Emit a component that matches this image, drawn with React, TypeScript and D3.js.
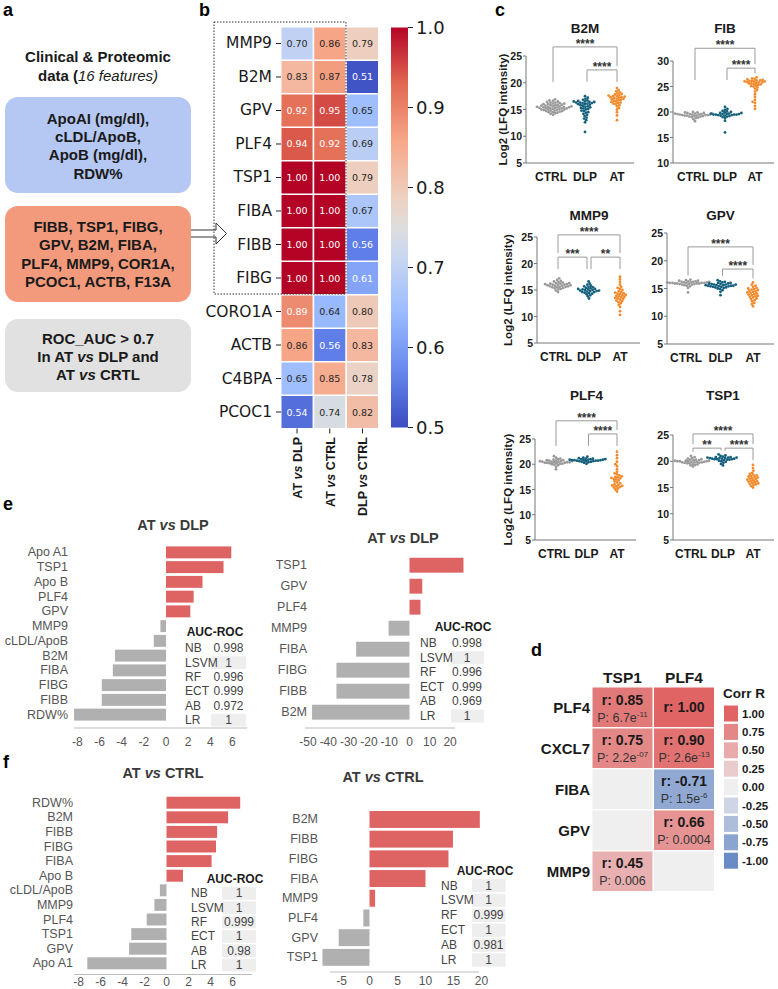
import React from "react";
import * as d3 from "d3";

const SANS = "'Liberation Sans', Arial, Helvetica, sans-serif";
const DEJAVU = "'DejaVu Sans', sans-serif";
const INK = "#1a1a1a";

// ---------- a: feature selection boxes ----------
const clinicalFeatures = ["ApoAI (mg/dl),", "cLDL/ApoB,", "ApoB (mg/dl),", "RDW%"];
const proteomicFeatures = ["FIBB, TSP1, FIBG,", "GPV, B2M, FIBA,", "PLF4, MMP9, COR1A,", "PCOC1, ACTB, F13A"];

// ---------- b: ROC AUC heatmap ----------
const heatRows = ["MMP9", "B2M", "GPV", "PLF4", "TSP1", "FIBA", "FIBB", "FIBG", "CORO1A", "ACTB", "C4BPA", "PCOC1"];
const heatCols = ["AT vs DLP", "AT vs CTRL", "DLP vs CTRL"];
const aucAtDlp = [0.70, 0.83, 0.92, 0.94, 1.00, 1.00, 1.00, 1.00, 0.89, 0.86, 0.65, 0.54];
const aucAtCtrl = [0.86, 0.87, 0.95, 0.92, 1.00, 1.00, 1.00, 1.00, 0.64, 0.56, 0.85, 0.74];
const aucDlpCtrl = [0.79, 0.51, 0.65, 0.69, 0.79, 0.67, 0.56, 0.61, 0.80, 0.83, 0.78, 0.82];
const colorbarTicks = [1.0, 0.9, 0.8, 0.7, 0.6, 0.5];

// ---------- c: LFQ intensity dot plots ----------
const groups = ["CTRL", "DLP", "AT"];
const b2mCtrl = [14.0, 14.2, 14.3, 14.4, 14.5, 14.5, 14.6, 14.7, 14.7, 14.8, 14.8, 14.9, 14.9, 15.0, 15.0, 15.0, 15.1, 15.1, 15.2, 15.2, 15.2, 15.3, 15.3, 15.3, 15.4, 15.4, 15.4, 15.5, 15.5, 15.5, 15.6, 15.6, 15.6, 15.7, 15.7, 15.8, 15.8, 15.9, 15.9, 16.0, 16.0, 16.1, 16.1, 16.2, 16.3, 16.3, 16.4, 16.5, 16.6, 16.7, 16.9];
const b2mDlp = [10.8, 12.6, 13.0, 13.3, 13.5, 13.8, 14.0, 14.2, 14.4, 14.5, 14.7, 14.8, 15.0, 15.1, 15.2, 15.3, 15.4, 15.5, 15.6, 15.7, 15.8, 15.9, 16.0, 16.0, 16.1, 16.2, 16.2, 16.3, 16.3, 16.4, 16.4, 16.5, 16.5, 16.6, 16.7, 16.8, 17.0, 17.2, 17.5];
const b2mAt = [13.0, 13.9, 14.5, 15.0, 15.3, 15.6, 15.8, 16.0, 16.1, 16.2, 16.3, 16.4, 16.5, 16.6, 16.7, 16.8, 16.9, 17.0, 17.0, 17.1, 17.2, 17.3, 17.3, 17.4, 17.5, 17.5, 17.6, 17.7, 17.8, 17.9, 18.0, 18.2, 18.4, 18.6, 19.0];
const fibCtrl = [18.2, 18.6, 18.8, 18.9, 19.0, 19.1, 19.1, 19.2, 19.2, 19.3, 19.3, 19.3, 19.4, 19.4, 19.4, 19.5, 19.5, 19.5, 19.5, 19.6, 19.6, 19.6, 19.7, 19.7, 19.7, 19.8, 19.8, 19.9, 19.9, 20.0];
const fibDlp = [16.0, 18.3, 18.8, 19.0, 19.1, 19.2, 19.3, 19.3, 19.4, 19.4, 19.5, 19.5, 19.5, 19.5, 19.6, 19.6, 19.6, 19.7, 19.7, 19.8, 19.8, 19.9, 20.0, 20.1, 20.2, 20.4, 20.6, 21.0];
const fibAt = [20.6, 21.2, 21.8, 22.0, 22.4, 23.0, 23.5, 24.0, 24.3, 24.6, 24.8, 25.0, 25.1, 25.2, 25.3, 25.4, 25.5, 25.6, 25.6, 25.7, 25.8, 25.8, 25.9, 26.0, 26.0, 26.0, 26.1, 26.1, 26.2, 26.2, 26.3, 26.4, 26.5, 26.6, 26.8];
const mmp9Ctrl = [14.6, 14.9, 15.1, 15.2, 15.3, 15.4, 15.5, 15.5, 15.6, 15.6, 15.7, 15.7, 15.8, 15.8, 15.9, 15.9, 16.0, 16.0, 16.0, 16.1, 16.1, 16.2, 16.2, 16.3, 16.3, 16.4, 16.5, 16.6, 16.7, 16.9, 17.2];
const mmp9Dlp = [13.4, 13.8, 14.0, 14.2, 14.3, 14.4, 14.5, 14.6, 14.6, 14.7, 14.8, 14.8, 14.9, 14.9, 15.0, 15.0, 15.1, 15.1, 15.2, 15.2, 15.3, 15.4, 15.5, 15.6, 15.7, 15.8, 16.0, 16.2, 16.6];
const mmp9At = [10.3, 11.0, 11.8, 12.2, 12.5, 12.7, 12.9, 13.0, 13.2, 13.3, 13.4, 13.5, 13.6, 13.7, 13.8, 13.9, 14.0, 14.1, 14.2, 14.3, 14.4, 14.5, 14.6, 14.8, 15.0, 15.2, 15.4, 15.6, 16.0, 16.5, 17.0, 17.5];
const gpvCtrl = [14.3, 15.1, 15.4, 15.5, 15.6, 15.7, 15.7, 15.8, 15.8, 15.8, 15.9, 15.9, 15.9, 15.9, 16.0, 16.0, 16.0, 16.0, 16.0, 16.1, 16.1, 16.1, 16.1, 16.2, 16.2, 16.2, 16.3, 16.3, 16.4, 16.4, 16.5, 16.6];
const gpvDlp = [13.8, 14.4, 14.7, 14.9, 15.0, 15.1, 15.2, 15.2, 15.3, 15.3, 15.4, 15.4, 15.4, 15.5, 15.5, 15.5, 15.6, 15.6, 15.6, 15.7, 15.7, 15.7, 15.8, 15.8, 15.9, 15.9, 16.0, 16.0, 16.1, 16.2, 16.3, 16.5];
const gpvAt = [11.8, 12.2, 12.4, 12.7, 12.9, 13.1, 13.2, 13.4, 13.5, 13.6, 13.7, 13.8, 13.9, 14.0, 14.1, 14.2, 14.3, 14.4, 14.5, 14.6, 14.7, 14.8, 14.9, 15.0, 15.1, 15.3, 15.5, 15.7, 16.1];
const plf4Ctrl = [19.0, 19.5, 19.8, 19.9, 20.0, 20.1, 20.1, 20.2, 20.2, 20.3, 20.3, 20.3, 20.4, 20.4, 20.4, 20.5, 20.5, 20.5, 20.6, 20.6, 20.6, 20.7, 20.7, 20.8, 20.8, 20.9, 21.0, 21.1, 21.3, 21.6];
const plf4Dlp = [20.1, 20.3, 20.4, 20.5, 20.5, 20.6, 20.6, 20.6, 20.7, 20.7, 20.7, 20.8, 20.8, 20.8, 20.8, 20.9, 20.9, 20.9, 21.0, 21.0, 21.0, 21.1, 21.1, 21.2, 21.3, 21.5];
const plf4At = [14.6, 15.0, 15.2, 15.4, 15.5, 15.6, 15.7, 15.8, 15.9, 16.0, 16.2, 16.4, 16.6, 16.8, 17.0, 17.1, 17.2, 17.3, 17.4, 17.5, 17.6, 17.8, 18.0, 18.2, 18.5, 19.0, 19.6, 20.0, 20.5, 21.2, 21.8, 22.5];
const tsp1Ctrl = [19.0, 19.2, 19.3, 19.4, 19.5, 19.6, 19.6, 19.7, 19.7, 19.8, 19.8, 19.8, 19.9, 19.9, 19.9, 20.0, 20.0, 20.0, 20.0, 20.1, 20.1, 20.1, 20.2, 20.2, 20.3, 20.3, 20.4, 20.5, 20.6, 20.8, 21.0];
const tsp1Dlp = [19.2, 19.5, 19.7, 19.9, 20.0, 20.1, 20.2, 20.3, 20.3, 20.4, 20.4, 20.4, 20.5, 20.5, 20.5, 20.6, 20.6, 20.6, 20.7, 20.7, 20.7, 20.8, 20.8, 20.9, 21.0, 21.1, 21.3];
const tsp1At = [15.0, 15.3, 15.5, 15.6, 15.7, 15.8, 15.9, 16.0, 16.1, 16.2, 16.3, 16.4, 16.5, 16.6, 16.7, 16.8, 16.9, 17.0, 17.1, 17.2, 17.3, 17.4, 17.6, 17.8, 18.2, 18.7, 19.3];
const ticks5to25 = [5, 10, 15, 20, 25];
const ticks10to30 = [10, 15, 20, 25, 30];

// ---------- d: correlation matrix ----------
const corrRows = ["PLF4", "CXCL7", "FIBA", "GPV", "MMP9"];
const corrCols = ["TSP1", "PLF4"];
const corrTsp1 = [0.85, 0.75, null, null, 0.45];
const corrPlf4 = [1.00, 0.90, -0.71, 0.66, null];
const pTsp1 = ["6.7e-11", "2.2e-07", null, null, "0.006"];
const pPlf4 = [null, "2.6e-13", "1.5e-6", "0.0004", null];
const corrLegend = [1.0, 0.75, 0.5, 0.25, 0.0, -0.25, -0.5, -0.75, -1.0];

// ---------- e, f: feature importance bars ----------
const eLeftNames = ["Apo A1", "TSP1", "Apo B", "PLF4", "GPV", "MMP9", "cLDL/ApoB", "B2M", "FIBA", "FIBG", "FIBB", "RDW%"];
const eLeftValues = [5.9, 5.2, 3.3, 2.5, 2.2, -0.5, -1.1, -4.6, -4.8, -5.8, -5.8, -8.3];
const eRightNames = ["TSP1", "GPV", "PLF4", "MMP9", "FIBA", "FIBG", "FIBB", "B2M"];
const eRightValues = [26.6, 6.3, 5.4, -10.3, -26.3, -36.0, -36.0, -48.0];
const fLeftNames = ["RDW%", "B2M", "FIBB", "FIBG", "FIBA", "Apo B", "cLDL/ApoB", "MMP9", "PLF4", "TSP1", "GPV", "Apo A1"];
const fLeftValues = [6.7, 5.6, 4.6, 4.5, 4.1, 1.5, -0.6, -1.1, -1.8, -3.2, -3.4, -7.2];
const fRightNames = ["B2M", "FIBB", "FIBG", "FIBA", "MMP9", "PLF4", "GPV", "TSP1"];
const fRightValues = [19.7, 14.9, 14.1, 10.0, 1.0, -1.1, -5.5, -8.4];
const aucModels = ["NB", "LSVM", "RF", "ECT", "AB", "LR"];
const eLeftAuc = [0.998, 1, 0.996, 0.999, 0.972, 1];
const eRightAuc = [0.998, 1, 0.996, 0.999, 0.969, 1];
const fLeftAuc = [1, 1, 0.999, 1, 0.98, 1];
const fRightAuc = [1, 1, 0.999, 1, 0.981, 1];
const smallTicks = [-8, -6, -4, -2, 0, 2, 4, 6];
const wideTicks = [-50, -40, -30, -20, -10, 0, 10, 20];
const fRightTicks = [-5, 0, 5, 10, 15, 20];

// matplotlib-like coolwarm
const coolwarmPos = [0, 1 / 7, 2 / 7, 3 / 7, 0.5, 4 / 7, 5 / 7, 6 / 7, 1];
const coolwarmHex = ["#3b4cc0", "#6788ee", "#9abbff", "#c9d7f0", "#dddddd", "#edd1c2", "#f7a889", "#e26952", "#b40426"];
const coolwarm = d3.scaleLinear<string>().domain(coolwarmPos).range(coolwarmHex).interpolate(d3.interpolateRgb).clamp(true);
const heatColor = (v: number) => coolwarm((v - 0.5) / 0.5);

function luminance(c: string) {
  const { r, g, b } = d3.rgb(c);
  const lin = (u: number) => {
    u /= 255;
    return u <= 0.03928 ? u / 12.92 : Math.pow((u + 0.055) / 1.055, 2.4);
  };
  return 0.2126 * lin(r) + 0.7152 * lin(g) + 0.0722 * lin(b);
}

function VsText({ s }: { s: string }) {
  const [a, b] = s.split(" vs ");
  return (
    <>
      <tspan>{a} </tspan>
      <tspan fontStyle="italic">vs</tspan>
      <tspan> {b}</tspan>
    </>
  );
}

function PanelLabel({ x, y, t }: { x: number; y: number; t: string }) {
  return (
    <text x={x} y={y} fontFamily={SANS} fontWeight="bold" fontSize={18} fill="#000">
      {t}
    </text>
  );
}

// ---------- a ----------
function FeatureBoxes() {
  return (
    <g fontFamily={SANS} fontWeight="bold" fontSize={15} fill={INK} textAnchor="middle">
      <text x={98} y={62}>Clinical &amp; Proteomic</text>
      <text x={98} y={81}>
        data (<tspan fontStyle="italic" fontWeight="normal">16 features)</tspan>
      </text>
      <rect x={5} y={97} width={186} height={96} rx={13} fill="#b5c8f3" />
      {clinicalFeatures.map((t, i) => (
        <text key={t} x={98} y={123.5 + i * 18.4}>{t}</text>
      ))}
      <rect x={5} y={206} width={186} height={96} rx={13} fill="#f39a7d" />
      {proteomicFeatures.map((t, i) => (
        <text key={t} x={98} y={232 + i * 18.4}>{t}</text>
      ))}
      <rect x={5} y={319} width={186} height={73} rx={13} fill="#e1e1e1" />
      <text x={98} y={343.5}>ROC_AUC &gt; 0.7</text>
      <text x={98} y={361.5}>
        In AT <tspan fontStyle="italic">vs</tspan> DLP and
      </text>
      <text x={98} y={379.5}>
        AT <tspan fontStyle="italic">vs</tspan> CRTL
      </text>
      <path d="M191,230 L216,230 L216,223 L226.5,233.5 L216,244 L216,237 L191,237" fill="#fff" stroke="#333" strokeWidth={1} />
    </g>
  );
}

// ---------- b ----------
function AucHeatmap() {
  const x = d3.scaleBand<string>().domain(heatCols).range([281.5, 378]).paddingInner(0.05);
  const y = d3.scaleBand<string>().domain(heatRows).range([27.5, 428]).paddingInner(0.045);
  const cols = [aucAtDlp, aucAtCtrl, aucDlpCtrl];
  const cb = d3.scaleLinear().domain([0.5, 1.0]).range([427.5, 27.5]);
  const cbX = 391;
  const cbW = 17;
  return (
    <g>
      <defs>
        <linearGradient id="coolwarm" x1="0" y1="1" x2="0" y2="0">
          {coolwarmPos.map((p, i) => (
            <stop key={i} offset={p} stopColor={coolwarmHex[i]} />
          ))}
        </linearGradient>
      </defs>
      {cols.map((vals, ci) =>
        vals.map((v, ri) => {
          const fill = heatColor(v);
          const cx = x(heatCols[ci])! + x.bandwidth() / 2;
          const cy = y(heatRows[ri])! + y.bandwidth() / 2;
          return (
            <g key={`${ci}-${ri}`}>
              <rect x={x(heatCols[ci])} y={y(heatRows[ri])} width={x.bandwidth()} height={y.bandwidth()} fill={fill} />
              <text x={cx} y={cy} textAnchor="middle" dominantBaseline="central" fontFamily={DEJAVU} fontSize={9.5}
                fill={luminance(fill) > 0.408 ? "#262626" : "#ffffff"}>
                {v.toFixed(2)}
              </text>
            </g>
          );
        })
      )}
      {heatRows.map((r) => {
        const cy = y(r)! + y.bandwidth() / 2;
        return (
          <g key={r}>
            <line x1={276} x2={281} y1={cy} y2={cy} stroke="#222" />
            <text x={272} y={cy} textAnchor="end" dominantBaseline="central" fontFamily={DEJAVU} fontSize={15.5} fill={INK}>
              {r}
            </text>
          </g>
        );
      })}
      {heatCols.map((c) => {
        const cx = x(c)! + x.bandwidth() / 2;
        return (
          <g key={c}>
            <line x1={cx} x2={cx} y1={428.5} y2={433.5} stroke="#222" />
            <text transform={`translate(${cx + 1},437) rotate(-90)`} textAnchor="end" dominantBaseline="central"
              fontFamily={SANS} fontWeight="bold" fontSize={12.5} fill={INK}>
              <VsText s={c} />
            </text>
          </g>
        );
      })}
      <rect x={214} y={22} width={132} height={272} fill="none" stroke="#333" strokeWidth={1} strokeDasharray="1.5 1.5" />
      <rect x={cbX} y={cb(1)} width={cbW} height={cb(0.5) - cb(1)} fill="url(#coolwarm)" />
      {colorbarTicks.map((t) => (
        <g key={t}>
          <line x1={cbX + cbW} x2={cbX + cbW + 5} y1={cb(t)} y2={cb(t)} stroke="#222" />
          <text x={cbX + cbW + 8} y={cb(t)} dominantBaseline="central" fontFamily={DEJAVU} fontSize={18} fill={INK}>
            {t.toFixed(1)}
          </text>
        </g>
      ))}
    </g>
  );
}

// ---------- c ----------
type Bracket = { from: string; to: string; label: string; at: number };
type DotPanel = { title: string; series: number[][]; ticks: number[]; brackets: Bracket[] };
const dotPanels: DotPanel[] = [
  { title: "B2M", series: [b2mCtrl, b2mDlp, b2mAt], ticks: ticks5to25,
    brackets: [{ from: "CTRL", to: "AT", label: "****", at: 26.7 }, { from: "DLP", to: "AT", label: "****", at: 22.4 }] },
  { title: "FIB", series: [fibCtrl, fibDlp, fibAt], ticks: ticks10to30,
    brackets: [{ from: "CTRL", to: "AT", label: "****", at: 32.5 }, { from: "DLP", to: "AT", label: "****", at: 28.6 }] },
  { title: "MMP9", series: [mmp9Ctrl, mmp9Dlp, mmp9At], ticks: ticks5to25,
    brackets: [{ from: "CTRL", to: "AT", label: "****", at: 25.4 }, { from: "CTRL", to: "DLP", label: "***", at: 21.2 }, { from: "DLP", to: "AT", label: "**", at: 21.2 }] },
  { title: "GPV", series: [gpvCtrl, gpvDlp, gpvAt], ticks: ticks5to25,
    brackets: [{ from: "CTRL", to: "AT", label: "****", at: 22.5 }, { from: "DLP", to: "AT", label: "****", at: 18.5 }] },
  { title: "PLF4", series: [plf4Ctrl, plf4Dlp, plf4At], ticks: ticks5to25,
    brackets: [{ from: "CTRL", to: "AT", label: "****", at: 28.6 }, { from: "DLP", to: "AT", label: "****", at: 26.0 }] },
  { title: "TSP1", series: [tsp1Ctrl, tsp1Dlp, tsp1At], ticks: ticks5to25,
    brackets: [{ from: "CTRL", to: "AT", label: "****", at: 25.2 }, { from: "CTRL", to: "DLP", label: "**", at: 22.5 }, { from: "DLP", to: "AT", label: "****", at: 22.5 }] },
];
const dotLayout = [
  { x0: 526, x1: 634, cx: [553, 617], y0: 163, y1: 56, titleY: 33, yLabelX: 503 },
  { x0: 673, x1: 774, cx: [695, 755], y0: 163, y1: 61, titleY: 33, yLabelX: 0 },
  { x0: 537, x1: 640, cx: [558, 620], y0: 343, y1: 237, titleY: 220, yLabelX: 508 },
  { x0: 667, x1: 774, cx: [688, 753], y0: 344, y1: 233, titleY: 220, yLabelX: 0 },
  { x0: 535, x1: 636, cx: [556, 617], y0: 540, y1: 439, titleY: 400, yLabelX: 508 },
  { x0: 673, x1: 774, cx: [693, 753], y0: 540, y1: 435, titleY: 400, yLabelX: 0 },
];
const groupColors = ["#9a9a9a", "#135f7c", "#f28a2b"];

// deterministic beeswarm: each point takes the smallest free horizontal offset
function swarm(ys: number[], gap: number) {
  const placed: { x: number; y: number }[] = [];
  const sorted = [...ys].sort((a, b) => b - a);
  sorted.forEach((py, i) => {
    for (let k = 0; k < 400; k++) {
      const mag = Math.ceil(k / 2) * 0.4;
      const sign = (k % 2 === 1 ? 1 : -1) * (i % 2 === 0 ? 1 : -1);
      const dx = mag * sign;
      if (placed.every((q) => (q.x - dx) ** 2 + (q.y - py) ** 2 >= gap * gap)) {
        placed.push({ x: dx, y: py });
        break;
      }
    }
  });
  return placed;
}

function DotPlot({ p, L }: { p: DotPanel; L: (typeof dotLayout)[number] }) {
  const y = d3.scaleLinear().domain([p.ticks[0], p.ticks[p.ticks.length - 1]]).range([L.y0, L.y1]);
  const x = d3.scalePoint<string>().domain(groups).range(L.cx as [number, number]);
  const lowest = Math.max(...p.brackets.map((b) => y(b.at)));
  const legEnd = (b: Bracket, g: string) => {
    const gx = x(g)!;
    const below = p.brackets.filter((o) => y(o.at) > y(b.at) + 0.5 && x(o.from)! <= gx && gx <= x(o.to)!);
    if (below.length) return Math.min(...below.map((o) => y(o.at))) - 4;
    const top = y(d3.max(p.series[groups.indexOf(g)])!);
    return Math.min(lowest + 12, top - 4);
  };
  const midX = (L.cx[0] + L.cx[1]) / 2;
  return (
    <g fontFamily={SANS}>
      <text x={midX} y={L.titleY} textAnchor="middle" fontWeight="bold" fontSize={13.5} fill={INK}>{p.title}</text>
      <line x1={L.x0} x2={L.x0} y1={L.y0} y2={L.y1} stroke="#777" />
      <line x1={L.x0} x2={L.x1} y1={L.y0} y2={L.y0} stroke="#777" />
      {p.ticks.map((t) => (
        <g key={t}>
          <line x1={L.x0 - 3} x2={L.x0} y1={y(t)} y2={y(t)} stroke="#777" />
          <text x={L.x0 - 4} y={y(t)} textAnchor="end" dominantBaseline="central" fontWeight="bold" fontSize={10.5} fill={INK}>{t}</text>
        </g>
      ))}
      {groups.map((g) => (
        <text key={g} x={x(g)! - (g === "CTRL" ? 2 : 0)} y={L.y0 + 18} textAnchor="middle" fontWeight="bold" fontSize={12} fill={INK}>{g}</text>
      ))}
      {L.yLabelX > 0 && (
        <text transform={`translate(${L.yLabelX},${(L.y0 + L.y1) / 2}) rotate(-90)`} textAnchor="middle" dominantBaseline="central"
          fontWeight="bold" fontSize={11.5} fill={INK}>
          Log2 (LFQ intensity)
        </text>
      )}
      {p.series.map((vals, gi) =>
        swarm(vals.map((v) => y(v)), 2.4).map((pt, i) => (
          <circle key={`${gi}-${i}`} cx={x(groups[gi])! + pt.x} cy={pt.y} r={1.4} fill={groupColors[gi]} />
        ))
      )}
      {p.brackets.map((b, i) => {
        const yb = y(b.at);
        const xa = x(b.from)! + (b.from === "DLP" ? 2 : 0);
        const xb = x(b.to)! - (b.to === "DLP" ? 2 : 0);
        return (
          <g key={i}>
            <path d={`M${xa},${legEnd(b, b.from)}V${yb}H${xb}V${legEnd(b, b.to)}`} fill="none" stroke="#9a9a9a" strokeWidth={1} />
            <text x={(xa + xb) / 2} y={yb + 1} textAnchor="middle" fontWeight="bold" fontSize={12} fill="#333">{b.label}</text>
          </g>
        );
      })}
    </g>
  );
}

// ---------- d ----------
function CorrMatrix() {
  const x = d3.scaleBand<string>().domain(corrCols).range([592.5, 714]).paddingInner(0.025);
  const y = d3.scaleBand<string>().domain(corrRows).range([687.5, 891]).paddingInner(0.035);
  const color = d3.scaleLinear<string>().domain([-1, 0, 1]).range(["#6a8cc6", "#efefef", "#e06464"]);
  const rs = [corrTsp1, corrPlf4];
  const ps = [pTsp1, pPlf4];
  return (
    <g fontFamily={SANS} fill={INK}>
      {corrCols.map((c) => (
        <text key={c} x={x(c)! + x.bandwidth() / 2} y={683} textAnchor="middle" fontWeight="bold" fontSize={15.5}>{c}</text>
      ))}
      {corrRows.map((r) => (
        <text key={r} x={590} y={y(r)! + y.bandwidth() / 2} textAnchor="end" dominantBaseline="central" fontWeight="bold" fontSize={15}>{r}</text>
      ))}
      {rs.map((col, ci) =>
        col.map((v, ri) => {
          const x0 = x(corrCols[ci])!;
          const y0 = y(corrRows[ri])!;
          const cx = x0 + x.bandwidth() / 2;
          const pv = ps[ci][ri];
          const [mant, expo] = pv && pv.includes("e") ? pv.split("e") : [pv, null];
          return (
            <g key={`${ci}-${ri}`}>
              <rect x={x0} y={y0} width={x.bandwidth()} height={y.bandwidth()} fill={v === null ? "#efefef" : color(v)} />
              {v !== null && (
                <text x={cx} y={pv ? y0 + 12 : y0 + y.bandwidth() / 2} textAnchor="middle" dominantBaseline="central" fontWeight="bold" fontSize={14}>
                  r: {v.toFixed(2)}
                </text>
              )}
              {pv && (
                <text x={cx} y={y0 + 34} textAnchor="middle" fontSize={12.5} fill="#333">
                  P: {mant}
                  {expo !== null && (
                    <>
                      e<tspan fontSize={8} dy={-5}>{expo}</tspan>
                    </>
                  )}
                </text>
              )}
            </g>
          );
        })
      )}
      <text x={744} y={697.5} textAnchor="middle" fontWeight="bold" fontSize={13.5}>Corr R</text>
      {corrLegend.map((v, i) => {
        const cy = 713.5 + i * 18.4;
        return (
          <g key={v}>
            <rect x={724} y={cy - 8} width={14} height={16} fill={color(v)} />
            <text x={742} y={cy} dominantBaseline="central" fontWeight="bold" fontSize={11.5}>{v.toFixed(2)}</text>
          </g>
        );
      })}
    </g>
  );
}

// ---------- e, f ----------
type BarLayout = {
  domain: [number, number]; range: [number, number]; band: [number, number]; pad: number;
  labelX: number; axisY: number; axisX: [number, number]; tickY: number;
  titleX: number; titleY: number;
  headX: number; headY: number; nameX: number; valX: number; bgX: [number, number]; row0: number; rowStep: number;
  shadeAll: boolean;
};

function BarPanel({ names, values, ticks, auc, title, L }: {
  names: string[]; values: number[]; ticks: number[]; auc: number[]; title: string; L: BarLayout;
}) {
  const x = d3.scaleLinear().domain(L.domain).range(L.range);
  const y = d3.scaleBand<string>().domain(names).range(L.band).paddingInner(L.pad).paddingOuter(L.pad / 2);
  return (
    <g fontFamily={SANS}>
      <text x={L.titleX} y={L.titleY} textAnchor="middle" fontWeight="bold" fontSize={14.5} fill="#3a3a3a">
        <VsText s={title} />
      </text>
      {names.map((n, i) => {
        const v = values[i];
        return (
          <g key={n}>
            <rect x={Math.min(x(0), x(v))} y={y(n)} width={Math.abs(x(v) - x(0))} height={y.bandwidth()} fill={v >= 0 ? "#de6464" : "#b0b0b0"} />
            <text x={L.labelX} y={y(n)! + y.bandwidth() / 2} textAnchor="end" dominantBaseline="central" fontSize={12.5} fill="#555">{n}</text>
          </g>
        );
      })}
      <line x1={L.axisX[0]} x2={L.axisX[1]} y1={L.axisY} y2={L.axisY} stroke="#bdbdbd" strokeWidth={1} />
      {ticks.map((t) => (
        <text key={t} x={x(t)} y={L.tickY} textAnchor="middle" fontSize={12} fill="#555">{String(t)}</text>
      ))}
      <text x={L.headX} y={L.headY} textAnchor="middle" fontWeight="bold" fontSize={12} fill={INK}>AUC-ROC</text>
      {aucModels.map((m, i) => {
        const cy = L.row0 + i * L.rowStep;
        const shaded = L.shadeAll || auc[i] === 1;
        return (
          <g key={m}>
            {shaded && <rect x={L.bgX[0]} y={cy - L.rowStep / 2 + 0.8} width={L.bgX[1] - L.bgX[0]} height={L.rowStep - 1.6} fill="#eeeeee" />}
            <text x={L.nameX} y={cy} dominantBaseline="central" fontSize={12} fill="#444">{m}</text>
            <text x={L.valX} y={cy} textAnchor="middle" dominantBaseline="central" fontSize={12} fill="#444">{String(auc[i])}</text>
          </g>
        );
      })}
    </g>
  );
}

const eLeftLayout: BarLayout = {
  domain: [-8, 6], range: [77.4, 232.4], band: [545, 722], pad: 0.19,
  labelX: 68, axisY: 728, axisX: [74, 247], tickY: 746, titleX: 173, titleY: 530,
  headX: 215, headY: 636, nameX: 185, valX: 228.5, bgX: [211, 246], row0: 648.3, rowStep: 14.35, shadeAll: false,
};
const eRightLayout: BarLayout = {
  domain: [-50, 20], range: [308, 450.1], band: [554.7, 722.7], pad: 0.29,
  labelX: 307, axisY: 728, axisX: [305, 455], tickY: 746, titleX: 403, titleY: 543,
  headX: 463, headY: 631, nameX: 420, valX: 467, bgX: [451, 484], row0: 643, rowStep: 14.6, shadeAll: false,
};
const fLeftLayout: BarLayout = {
  domain: [-8, 6], range: [78.5, 232.5], band: [795.4, 970.6], pad: 0.18,
  labelX: 73, axisY: 974.5, axisX: [74, 252], tickY: 985.5, titleX: 163, titleY: 778,
  headX: 235, headY: 883, nameX: 191, valX: 239, bgX: [222, 256], row0: 893.3, rowStep: 14.35, shadeAll: true,
};
const fRightLayout: BarLayout = {
  domain: [-5, 20], range: [341.5, 481.5], band: [809.6, 967.2], pad: 0.14,
  labelX: 318, axisY: 972, axisX: [330, 479], tickY: 984.5, titleX: 383, titleY: 782,
  headX: 485, headY: 875, nameX: 441, valX: 488.5, bgX: [472, 505.5], row0: 885.5, rowStep: 14.9, shadeAll: true,
};

export default function App() {
  return (
    <div style={{ position: "absolute", left: 0, top: 0 }}>
      <svg width={778} height={989} viewBox="0 0 778 989" style={{ display: "block", background: "#fff" }}>
        <rect width={778} height={989} fill="#fff" />
        <PanelLabel x={3} y={16} t="a" />
        <PanelLabel x={199} y={16} t="b" />
        <PanelLabel x={495} y={16} t="c" />
        <PanelLabel x={531} y={656} t="d" />
        <PanelLabel x={3} y={510} t="e" />
        <PanelLabel x={3} y={768} t="f" />
        <FeatureBoxes />
        <AucHeatmap />
        {dotPanels.map((p, i) => (
          <DotPlot key={p.title} p={p} L={dotLayout[i]} />
        ))}
        <CorrMatrix />
        <BarPanel names={eLeftNames} values={eLeftValues} ticks={smallTicks} auc={eLeftAuc} title="AT vs DLP" L={eLeftLayout} />
        <BarPanel names={eRightNames} values={eRightValues} ticks={wideTicks} auc={eRightAuc} title="AT vs DLP" L={eRightLayout} />
        <BarPanel names={fLeftNames} values={fLeftValues} ticks={smallTicks} auc={fLeftAuc} title="AT vs CTRL" L={fLeftLayout} />
        <BarPanel names={fRightNames} values={fRightValues} ticks={fRightTicks} auc={fRightAuc} title="AT vs CTRL" L={fRightLayout} />
      </svg>
    </div>
  );
}
